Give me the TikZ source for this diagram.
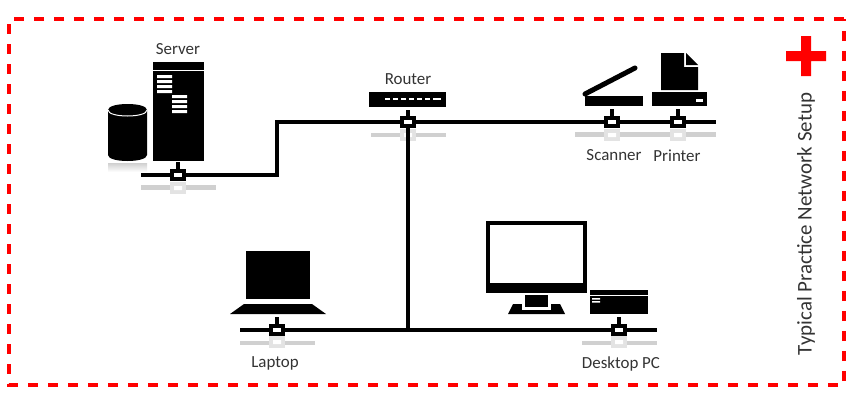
\documentclass[tikz,border=0pt]{standalone}
\usepackage{fontspec}
\setmainfont{Carlito}
\definecolor{framered}{RGB}{255,0,0}
\definecolor{labelgrey}{RGB}{51,51,51}
\definecolor{shadowgrey}{RGB}{208,208,208}
\tikzset{
  bus/.style={line width=3pt,black},
  stub/.style={line width=3pt,black,shorten >=2pt},
  tap/.style={draw=black,line width=3pt,fill=white,rectangle,inner sep=0pt,minimum width=9pt,minimum height=6pt},
  tapshadow/.style={fill=shadowgrey!60,rectangle,inner sep=0pt,minimum width=12pt,minimum height=9pt},
  hostbox/.style={fill=black,rectangle,inner sep=0pt,outer sep=0pt},
  netlabel/.style={inner sep=0pt,text=labelgrey,font=\fontsize{12.7}{14}\selectfont},
}
\begin{document}
\begin{tikzpicture}[x=0.75pt,y=0.75pt,yscale=-1,xscale=1]
	\useasboundingbox (0,0) rectangle (850,400);

	%Shape: Frame
	\draw [framered,line width=3pt,dash pattern={on 7.5pt off 7.5pt}] (844,19) -- (9,19) -- (9,385) -- (844,385) -- cycle ;
	%Shape: Cross
	\fill [framered] (801,36) -- (811,36) -- (811,51) -- (826,51) -- (826,61) -- (811,61) -- (811,76) -- (801,76) -- (801,61) -- (786,61) -- (786,51) -- (801,51) -- cycle ;

	%Shape: Shadow strips
	\fill [shadowgrey] (141,185) rectangle (216,190) ;
	\fill [shadowgrey] (371,133) rectangle (446,137) ;
	\fill [shadowgrey] (575,132) rectangle (716,137) ;
	\fill [shadowgrey] (240,341) rectangle (315,345) ;
	\fill [shadowgrey] (582,341) rectangle (657,345) ;
	\fill [top color=shadowgrey,bottom color=white] (108,163) rectangle (147,172) ;

	%Tap shadows
	\node [tapshadow] (shadowServer) at (178,188) {};
	\node [tapshadow] (shadowRouter) at (408,135) {};
	\node [tapshadow] (shadowScanner) at (612,135) {};
	\node [tapshadow] (shadowPrinter) at (678,135) {};
	\node [tapshadow] (shadowLaptop) at (277,342) {};
	\node [tapshadow] (shadowDesktop) at (619,342) {};
	\fill [white] (174,186) rectangle (182,190) (404,133) rectangle (412,137) (608,133) rectangle (616,137) (674,133) rectangle (682,137) (273,340) rectangle (281,344) (615,340) rectangle (623,344) ;

	%Shape: Server
	\node [hostbox,minimum width=38.25pt,minimum height=74.25pt] (server) at (178.5,111.5) {};
	\fill [white] (153,70) rectangle (204,71) ;
	\fill [white] (157,75) rectangle (172,78) (157,80) rectangle (172,83) (157,85) rectangle (172,88) (157,90) rectangle (172,93) ;
	\fill [white] (172,95) rectangle (187,98) (172,100) rectangle (187,103) (172,105) rectangle (187,108) (172,110) rectangle (187,113) ;
	%Shape: Can
	\fill [black] (108,110) .. controls (108,102) and (147,102) .. (147,110) -- (147,155) .. controls (147,163) and (108,163) .. (108,155) -- cycle ;
	\draw [white,line width=0.75pt] (108,110) .. controls (108,118) and (147,118) .. (147,110) ;

	%Shape: Router
	\node [hostbox,minimum width=57.75pt,minimum height=11.25pt] (router) at (407.5,99.5) {};
	\draw [white,line width=1.5pt,dash pattern={on 3.75pt off 2.25pt}] (385,99) -- (433,99) ;
	\draw [white,line width=1.5pt] (433,99) -- (441,99) ;

	%Shape: Scanner
	\node [hostbox,minimum width=43.5pt,minimum height=7.5pt] (scanner) at (614,101) {};
	\draw [black,line width=3.75pt,line cap=round] (585,94) -- (635,68) ;

	%Shape: Printer
	\node [hostbox,minimum width=41.25pt,minimum height=10.5pt] (printer) at (679.5,99) {};
	\fill [white] (696,99) rectangle (703,102) ;
	\fill [black] (661,53) -- (684,53) -- (684,67) -- (698,67) -- (698,90) -- (661,90) -- cycle ;
	\fill [black] (686,53) -- (698,65) -- (686,65) -- cycle ;

	%Shape: Laptop
	\fill [black] (246,251) rectangle (310,299) ;
	\coordinate (laptopFoot) at (278,314);
	\fill [black] (244,304) -- (312,304) -- (326,314) -- (230,314) -- cycle ;

	%Shape: Monitor
	\fill [black] (486,221) rectangle (587,293) ;
	\fill [white] (490,225) rectangle (583,283) ;
	\fill [black] (513,304) -- (560,304) -- (565,314) -- (508,314) -- cycle ;
	\fill [white] (522,303) rectangle (551,310) ;
	\fill [black] (525,295) rectangle (548,307) ;

	%Shape: Desktop
	\node [hostbox,minimum width=43.5pt,minimum height=18pt] (desktop) at (619,302) {};
	\fill [white] (590,295) rectangle (648,296) ;
	\fill [white] (592,298) rectangle (600,299.5) (592,301) rectangle (600,302.5) ;

	%Network taps
	\node [tap] (tapServer) at (178,175) {};
	\node [tap] (tapRouter) at (408,122) {};
	\node [tap] (tapScanner) at (612,122) {};
	\node [tap] (tapPrinter) at (678,122) {};
	\node [tap] (tapLaptop) at (277,330) {};
	\node [tap] (tapDesktop) at (619,330) {};
	\coordinate (endServer) at (141,175);
	\coordinate (bendLow) at (277,175);
	\coordinate (bendHigh) at (277,122);
	\coordinate (endPrinter) at (716,122);
	\coordinate (endLaptop) at (240,330);
	\coordinate (joinLower) at (408,330);
	\coordinate (endDesktop) at (657,330);

	%Straight Lines
	\draw [bus] (endServer) -- (tapServer) ;
	\draw [bus,line join=miter] (tapServer) -- (bendLow) -- (bendHigh) -- (tapRouter) ;
	\draw [bus] (tapRouter) -- (tapScanner) ;
	\draw [bus] (tapScanner) -- (tapPrinter) ;
	\draw [bus] (tapPrinter) -- (endPrinter) ;
	\draw [bus] (tapRouter) -- (joinLower) ;
	\draw [bus] (endLaptop) -- (tapLaptop) ;
	\draw [bus] (tapLaptop) -- (tapDesktop) ;
	\draw [bus] (tapDesktop) -- (endDesktop) ;
	%Stubs
	\draw [stub,shorten >=0.75pt] (tapServer.north) -- (tapServer.north |- server.south) ;
	\draw [stub] (tapRouter.north) -- (tapRouter.north |- router.south) ;
	\draw [stub] (tapScanner.north) -- (tapScanner.north |- scanner.south) ;
	\draw [stub] (tapPrinter.north) -- (tapPrinter.north |- printer.south) ;
	\draw [stub] (tapLaptop.north) -- (tapLaptop.north |- laptopFoot) ;
	\draw [stub] (tapDesktop.north) -- (tapDesktop.north |- desktop.south) ;

	% Text Node
	\node [netlabel] (lblServer) at (178,49) {Server};
	% Text Node
	\node [netlabel] (lblRouter) at (408,79) {Router};
	% Text Node
	\node [netlabel] (lblScanner) at (614,155.5) {Scanner};
	% Text Node
	\node [netlabel] (lblPrinter) at (677,155.5) {Printer};
	% Text Node
	\node [netlabel] (lblLaptop) at (275,363.5) {Laptop};
	% Text Node
	\node [netlabel] (lblDesktop) at (621,363.5) {Desktop PC};
	% Text Node
	\node [netlabel,font=\fontsize{15.7}{18}\selectfont,rotate=90] (lblTitle) at (806,224) {Typical Practice Network Setup};
\end{tikzpicture}
\end{document}
